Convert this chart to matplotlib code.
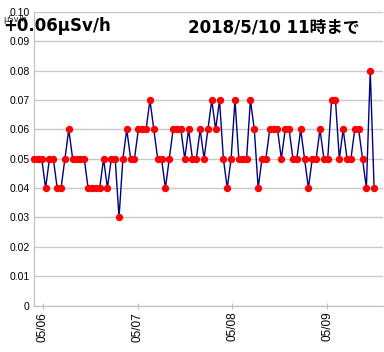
import matplotlib.pyplot as plt
import numpy as np

# Hourly air dose rate readings (uSv/h)
dose = [0.05, 0.05, 0.05, 0.04, 0.05, 0.05, 0.04, 0.04, 0.05, 0.06,
        0.05, 0.05, 0.05, 0.05, 0.04, 0.04, 0.04, 0.04, 0.05, 0.04,
        0.05, 0.05, 0.03, 0.05, 0.06, 0.05, 0.05, 0.06, 0.06, 0.06,
        0.07, 0.06, 0.05, 0.05, 0.04, 0.05, 0.06, 0.06, 0.06, 0.05,
        0.06, 0.05, 0.05, 0.06, 0.05, 0.06, 0.07, 0.06, 0.07, 0.05,
        0.04, 0.05, 0.07, 0.05, 0.05, 0.05, 0.07, 0.06, 0.04, 0.05,
        0.05, 0.06, 0.06, 0.06, 0.05, 0.06, 0.06, 0.05, 0.05, 0.06,
        0.05, 0.04, 0.05, 0.05, 0.06, 0.05, 0.05, 0.07, 0.07, 0.05,
        0.06, 0.05, 0.05, 0.06, 0.06, 0.05, 0.04, 0.08, 0.04]
day_labels = ['05/06', '05/07', '05/08', '05/09']
day_index = [2.2, 26.8, 51.3, 75.9]   # sample index where each day label sits
y_ticks = [0, 0.01, 0.02, 0.03, 0.04, 0.05, 0.06, 0.07, 0.08, 0.09, 0.10]
y_labels = ['0', '0.01', '0.02', '0.03', '0.04', '0.05', '0.06', '0.07', '0.08', '0.09', '0.10']
current = '+0.06μSv/h'
title = '2018/5/10 11時まで'
unit = 'μSv/h'

x = np.arange(len(dose))

fig = plt.figure(figsize=(3.84, 3.52), dpi=100)
ax = fig.add_axes([34 / 384, 1 - 305.5 / 352, 349 / 384, 293.5 / 352])

ax.plot(x, dose, color='#000080', lw=1.0, marker='o', ms=4.3,
        mfc='#ff0000', mec='#ff0000', clip_on=False, zorder=3)

ax.set_xlim(0, 90.3)
ax.set_ylim(0, 0.10)
ax.set_yticks(y_ticks)
ax.set_yticklabels(y_labels, fontfamily='Liberation Sans', fontsize=7.5)
ax.set_xticks(day_index)
ax.set_xticklabels(day_labels, rotation=90, fontfamily='Liberation Sans', fontsize=8.5)

ax.grid(axis='y', color='#c8c8c8', lw=1.0)
ax.set_axisbelow(True)
for side in ['top', 'right']:
    ax.spines[side].set_visible(False)
for side in ['left', 'bottom']:
    ax.spines[side].set_color('#bfbfbf')
ax.tick_params(axis='y', length=0, pad=3)
ax.tick_params(axis='x', length=5, direction='inout', color='#bfbfbf', pad=2)

# unit label peeking out behind the big reading
fig.text(3 / 384, 1 - 19 / 352, unit, fontsize=6, va='center', color='#202020')
fig.text(3 / 384, 1 - 26 / 352, current, fontsize=12, fontweight='bold',
         fontfamily='DejaVu Sans', va='center', zorder=5)
fig.text(188 / 384, 1 - 27 / 352, title, fontsize=12, fontweight='bold',
         fontfamily=['DejaVu Sans', 'Noto Sans CJK JP'], va='center')

plt.savefig('out.png', dpi=100)
